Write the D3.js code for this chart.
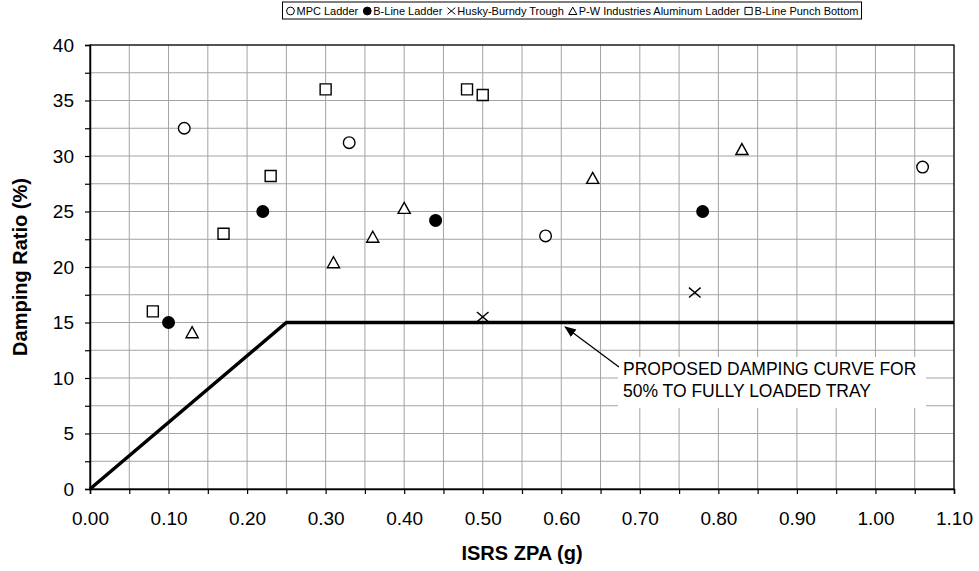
<!DOCTYPE html>
<html>
<head>
<meta charset="utf-8">
<script src="https://cdn.jsdelivr.net/npm/d3@7"></script>
<style>
  body { margin: 0; background: #fff; }
  text { font-family: "Liberation Sans", Arial, sans-serif; fill: #000; }
</style>
</head>
<body>
<svg id="chart"></svg>
<script>
let width = 979
let height = 571
let margin = {top: 45, right: 25, bottom: 82, left: 90}

// data
let seriesNames = ['MPC Ladder', 'B-Line Ladder', 'Husky-Burndy Trough', 'P-W Industries Aluminum Ladder', 'B-Line Punch Bottom']
let mpcX = [0.12, 0.33, 0.58, 1.06]
let mpcY = [32.5, 31.2, 22.8, 29.0]
let blineX = [0.10, 0.22, 0.44, 0.78]
let blineY = [15.0, 25.0, 24.2, 25.0]
let huskyX = [0.50, 0.77]
let huskyY = [15.5, 17.7]
let pwX = [0.13, 0.31, 0.36, 0.40, 0.64, 0.83]
let pwY = [14.1, 20.4, 22.7, 25.3, 28.0, 30.6]
let punchX = [0.08, 0.17, 0.23, 0.30, 0.48, 0.50]
let punchY = [16.0, 23.0, 28.2, 36.0, 36.0, 35.5]

// proposed damping curve
let curveX = [0, 0.25, 1.10]
let curveY = [0, 15, 15]

let xTickValues = [0, 0.1, 0.2, 0.3, 0.4, 0.5, 0.6, 0.7, 0.8, 0.9, 1.0, 1.1]
let yTickValues = [0, 5, 10, 15, 20, 25, 30, 35, 40]
let annotationLines = ['PROPOSED DAMPING CURVE FOR', '50% TO FULLY LOADED TRAY']

let innerW = width - margin.left - margin.right
let innerH = height - margin.top - margin.bottom

let svg = d3.select('#chart')
  .attr('width', width)
  .attr('height', height)

let x = d3.scaleLinear().domain([0, 1.1]).range([margin.left, margin.left + innerW])
let y = d3.scaleLinear().domain([0, 40]).range([margin.top + innerH, margin.top])

// gridlines every 0.05 / 2.5
let xMinor = d3.range(0, 23).map(i => i * 0.05)
let yMinor = d3.range(0, 17).map(i => i * 2.5)

svg.append('g').selectAll('line')
  .data(xMinor.slice(1))
  .enter().append('line')
  .attr('x1', d => x(d)).attr('x2', d => x(d))
  .attr('y1', y(0)).attr('y2', y(40))
  .attr('stroke', '#a3a3a3').attr('stroke-width', 1)

svg.append('g').selectAll('line')
  .data(yMinor.slice(1))
  .enter().append('line')
  .attr('x1', x(0)).attr('x2', x(1.1))
  .attr('y1', d => y(d)).attr('y2', d => y(d))
  .attr('stroke', '#a3a3a3').attr('stroke-width', 1)

// frame
svg.append('rect')
  .attr('x', x(0)).attr('y', y(40))
  .attr('width', innerW).attr('height', innerH)
  .attr('fill', 'none').attr('stroke', '#000').attr('stroke-width', 1.2)

// axes
let xAxis = d3.axisBottom(x).tickValues(xMinor).tickSize(5).tickFormat(d => {
  let r = Math.round(d * 100)
  return r % 10 === 0 ? d3.format('.2f')(d) : ''
})
let gx = svg.append('g')
  .attr('transform', `translate(0, ${y(0)})`)
  .call(xAxis)
gx.select('.domain').attr('stroke', '#000').attr('stroke-width', 1.5)
gx.selectAll('.tick line').attr('stroke', '#000').attr('stroke-width', 1.2)
gx.selectAll('.tick text').attr('font-size', 19).attr('dy', '1.45em')
  .attr('font-family', '"Liberation Sans", Arial, sans-serif')

let yAxis = d3.axisLeft(y).tickValues(yMinor).tickSize(5).tickFormat(d => {
  return yTickValues.includes(d) ? d : ''
})
let gy = svg.append('g')
  .attr('transform', `translate(${x(0)}, 0)`)
  .call(yAxis)
gy.select('.domain').attr('stroke', '#000').attr('stroke-width', 1.5)
gy.selectAll('.tick line').attr('stroke', '#000').attr('stroke-width', 1.2)
gy.selectAll('.tick text').attr('font-size', 19).attr('x', -16)
  .attr('font-family', '"Liberation Sans", Arial, sans-serif')

// axis titles
svg.append('text')
  .attr('x', (x(0) + x(1.1)) / 2)
  .attr('y', 560)
  .attr('text-anchor', 'middle')
  .attr('font-size', 20)
  .attr('font-weight', 'bold')
  .text('ISRS ZPA (g)')

svg.append('text')
  .attr('transform', `translate(27, ${(y(0) + y(40)) / 2}) rotate(-90)`)
  .attr('text-anchor', 'middle')
  .attr('font-size', 20)
  .attr('font-weight', 'bold')
  .text('Damping Ratio (%)')

// curve
let line = d3.line().x(d => x(d[0])).y(d => y(d[1]))
svg.append('path')
  .attr('d', line(d3.zip(curveX, curveY)))
  .attr('fill', 'none').attr('stroke', '#000').attr('stroke-width', 3.5)

// marker shapes
function markerPath(shape, s) {
  let p = d3.path()
  if (shape === 'circle') {
    p.moveTo(s, 0); p.arc(0, 0, s, 0, Math.PI * 2)
  } else if (shape === 'square') {
    p.rect(-s, -s, 2 * s, 2 * s)
  } else if (shape === 'triangle') {
    p.moveTo(0, -s); p.lineTo(s * 1.05, s * 0.9); p.lineTo(-s * 1.05, s * 0.9); p.closePath()
  } else if (shape === 'cross') {
    p.moveTo(-s, -s * 0.85); p.lineTo(s, s * 0.85)
    p.moveTo(s, -s * 0.85); p.lineTo(-s, s * 0.85)
  }
  return p.toString()
}

let series = [
  {name: seriesNames[0], xs: mpcX, ys: mpcY, shape: 'circle', fill: 'none'},
  {name: seriesNames[1], xs: blineX, ys: blineY, shape: 'circle', fill: '#000'},
  {name: seriesNames[2], xs: huskyX, ys: huskyY, shape: 'cross', fill: 'none'},
  {name: seriesNames[3], xs: pwX, ys: pwY, shape: 'triangle', fill: 'none'},
  {name: seriesNames[4], xs: punchX, ys: punchY, shape: 'square', fill: 'none'}
]

series.forEach(s => {
  svg.append('g').selectAll('path')
    .data(d3.zip(s.xs, s.ys))
    .enter().append('path')
    .attr('transform', d => `translate(${x(d[0])}, ${y(d[1])})`)
    .attr('d', markerPath(s.shape, s.shape === 'square' ? 5.5 : 5.8))
    .attr('fill', s.fill === 'none' ? '#fff' : s.fill)
    .attr('stroke', '#000').attr('stroke-width', 1.4)
})

// annotation
let ann = svg.append('g')
ann.append('rect')
  .attr('x', 618).attr('y', 357).attr('width', 308).attr('height', 51)
  .attr('fill', '#fff')
ann.selectAll('text')
  .data(annotationLines)
  .enter().append('text')
  .attr('x', 623)
  .attr('y', (d, i) => 375 + i * 22)
  .attr('font-size', 17.5)
  .text(d => d)

svg.append('defs').append('marker')
  .attr('id', 'arrow')
  .attr('viewBox', '0 0 10 10')
  .attr('refX', 9).attr('refY', 5)
  .attr('markerWidth', 9).attr('markerHeight', 9)
  .attr('orient', 'auto')
  .append('path').attr('d', 'M0,1 L10,5 L0,9 Z').attr('fill', '#000')

svg.append('line')
  .attr('x1', 619).attr('y1', 367)
  .attr('x2', x(0.605)).attr('y2', y(14.6))
  .attr('stroke', '#000').attr('stroke-width', 1.3)
  .attr('marker-end', 'url(#arrow)')

// legend
let legend = svg.append('g')
let lx = 0
series.forEach(s => {
  let g = legend.append('g')
  g.append('path')
    .attr('transform', 'translate(5, 0)')
    .attr('d', markerPath(s.shape, s.shape === 'square' ? 3.6 : 3.9))
    .attr('fill', s.fill === 'none' ? '#fff' : s.fill)
    .attr('stroke', '#000').attr('stroke-width', 1)
  let t = g.append('text')
    .attr('x', 11).attr('y', 4)
    .attr('font-size', 11)
    .text(s.name)
  let w = 11 + t.node().getComputedTextLength()
  g.attr('transform', `translate(${lx}, 0)`)
  lx += w + 4
})
let legendW = lx - 4
let legendX = 572 - legendW / 2
legend.attr('transform', `translate(${legendX}, 11)`)
svg.insert('rect', 'g')
  .attr('x', legendX - 3).attr('y', 2)
  .attr('width', legendW + 6).attr('height', 17)
  .attr('fill', '#fff').attr('stroke', '#000').attr('stroke-width', 1)
</script>
</body>
</html>
